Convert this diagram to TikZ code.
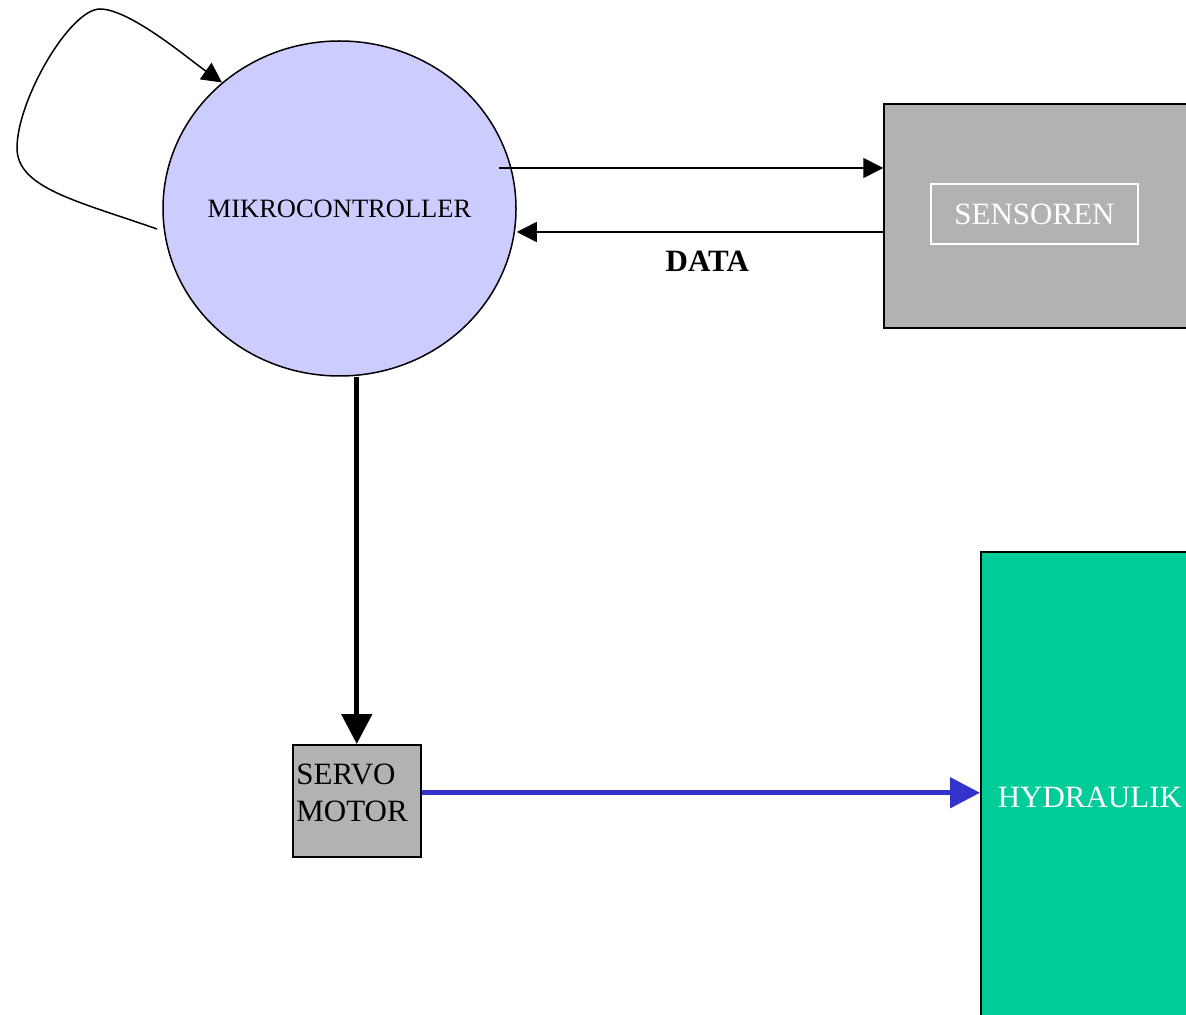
\documentclass[tikz,border=0pt]{standalone}
\usepackage{fontspec}
\setmainfont{Liberation Serif}
\usetikzlibrary{arrows.meta,positioning,shapes.geometric,calc}
\definecolor{ctrlblue}{RGB}{204,204,255}
\definecolor{blockgray}{RGB}{178,178,178}
\definecolor{hydgreen}{RGB}{0,204,153}
\definecolor{pipeblue}{RGB}{51,51,204}

\begin{document}
\begin{tikzpicture}[
    x=0.5pt, y=-0.5pt,
    block/.style={draw, fill=blockgray, line width=0.75pt, inner sep=0pt},
    label font/.style={font=\fontsize{15.5}{18.5}\selectfont},
    link/.style={line width=0.75pt, -{Triangle[length=10pt,width=10pt]}},
    heavy/.style={line width=2.5pt, -{Triangle[length=15pt,width=15pt]}}
]
\useasboundingbox (0,0) rectangle (1186,1015);
\clip (0,0) rectangle (1186,1015);

% blocks
\node[ellipse, draw, fill=ctrlblue, line width=0.75pt, inner sep=0pt, minimum width=176.5pt, minimum height=167.5pt] (mc) at (339.5,208.5) {};
\node[font=\fontsize{13.25}{16}\selectfont] (mclbl) at (mc.center) {MIKROCONTROLLER};
\node[block, minimum width=153pt, minimum height=112pt] (sens) at (1037,216) {};
\node[draw=white, line width=0.6pt, minimum width=103.5pt, minimum height=30pt, text=white, label font] (senslbl) at (1034.5,214) {SENSOREN};
\node[block, anchor=north west, minimum width=64pt, minimum height=56pt] (servo) at (292,744) {};
\node[anchor=north west, inner xsep=2pt, inner ysep=0pt, align=left, label font] (servolbl) at ($(servo.north west)+(0,20)$) {SERVO\\MOTOR};
\node[draw, fill=hydgreen, line width=0.75pt, anchor=west, inner xsep=8.5pt, minimum height=245pt, text=white, label font] (hyd) at (980,797) {HYDRAULIK};

% connectors
\coordinate (tx) at (499,168);
\coordinate (rx) at ($(sens.west)+(0,16)$);
\coordinate (loopin) at (157,229);
\coordinate (drive) at ($(servo.east)+(0,-8)$);
\draw[link] (tx) -- (tx -| sens.west);
\draw[link] (rx) -- (rx -| mc.east) node[pos=0.48, below=6pt, font=\fontsize{15.5}{18.5}\selectfont\bfseries] (datalbl) {DATA};
\draw[link] (loopin) .. controls (77,201) and (17,188) .. (17,148)
    .. controls (17,100) and (70,9) .. (100,9)
    .. controls (130,9) and (190,60) .. (mc.133);
\draw[heavy] (servo.north |- mc.south) -- (servo.north);
\draw[heavy, pipeblue] (drive) -- (drive -| hyd.west);
\end{tikzpicture}
\end{document}
